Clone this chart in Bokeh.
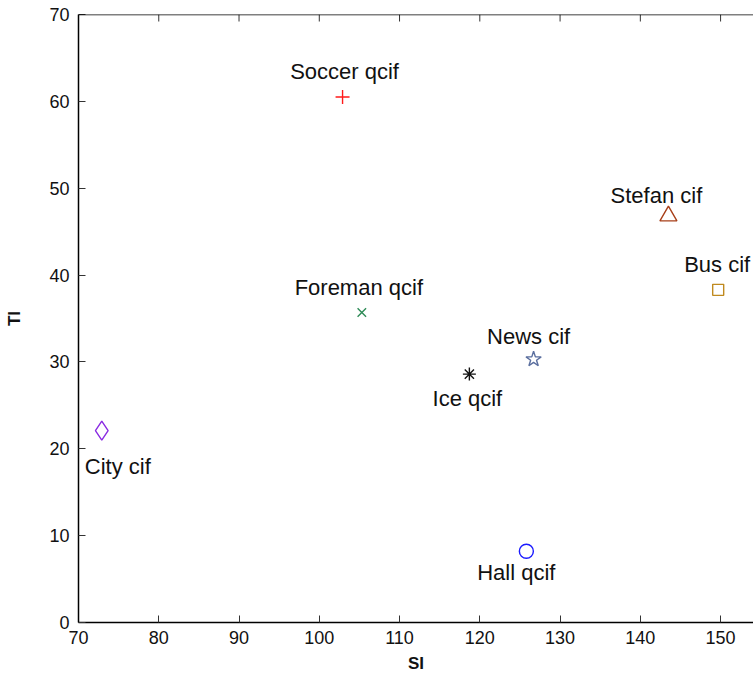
import math
from bokeh.plotting import figure
from bokeh.models import ColumnDataSource, FixedTicker, Range1d, Span
from bokeh.core.properties import value
from bokeh.embed import file_html
from bokeh.resources import INLINE

# Video sequences: spatial (SI) vs temporal (TI) information
names = ["Soccer qcif", "Stefan cif", "Bus cif", "Foreman qcif",
         "News cif", "Ice qcif", "City cif", "Hall qcif"]
si = [102.9, 143.5, 149.7, 105.3, 126.7, 118.7, 72.9, 125.8]
ti = [60.5, 46.8, 38.3, 35.7, 30.3, 28.6, 22.1, 8.2]

# Marker styling for each sequence
markers = ["cross", "triangle", "square", "x", "star", "asterisk", "diamond", "circle"]
colors = ["#ff1a1a", "#a8401a", "#c08a1f", "#2e8b57", "#5b6f9f", "#111111", "#8a2be2", "#1a1aff"]
sizes = [14, 17, 11, 12, 16, 13, 19, 14]

# Label placement relative to each marker (screen pixels)
label_dx = [2, -12, -1, -3, -5, -2, 16, -10]
label_dy = [-26, -21, -25, -25, -23, 24, 36, 21]

x_ticks = [70, 80, 90, 100, 110, 120, 130, 140, 150]
y_ticks = [0, 10, 20, 30, 40, 50, 60, 70]

FONT = "Liberation Sans"
Y_TOP = 70

src = ColumnDataSource(dict(si=si, ti=ti, name=names, marker=markers, color=colors,
                            size=sizes, dx=label_dx, dy=label_dy))

p = figure(width=753, height=678, output_backend="svg", toolbar_location=None,
           x_range=Range1d(70, 154.1), y_range=Range1d(0, Y_TOP),
           min_border_left=78, min_border_right=0, min_border_top=14, min_border_bottom=56,
           x_axis_label="SI", y_axis_label="TI")
p.outline_line_color = None
p.background_fill_color = "white"
p.border_fill_color = "white"
p.xgrid.visible = False
p.ygrid.visible = False

p.scatter("si", "ti", source=src, marker="marker", size="size",
          line_color="color", fill_color=None, line_width=1.4)
p.text("si", "ti", text="name", source=src, x_offset="dx", y_offset="dy",
       text_align="center", text_baseline="middle",
       text_font=value(FONT), text_font_size="22px", text_color="#111111")

for ax in (p.xaxis[0], p.yaxis[0]):
    ax.major_tick_in = 7
    ax.major_tick_out = 0
    ax.minor_tick_in = 0
    ax.minor_tick_out = 0
    ax.axis_line_color = "black"
    ax.axis_line_width = 1.5
    ax.major_tick_line_color = "#333333"
    ax.major_label_text_font = FONT
    ax.major_label_text_font_size = "18px"
    ax.major_label_text_color = "#111111"
    ax.axis_label_text_font = FONT
    ax.axis_label_text_font_size = "17px"
    ax.axis_label_text_font_style = "bold"
    ax.axis_label_text_color = "#111111"

p.xaxis[0].ticker = FixedTicker(ticks=x_ticks)
p.yaxis[0].ticker = FixedTicker(ticks=y_ticks)
p.xaxis[0].major_label_standoff = 8
p.xaxis[0].axis_label_standoff = 7
p.yaxis[0].major_label_standoff = 9
p.yaxis[0].axis_label_standoff = 22

# Top edge of the box with inward ticks
p.add_layout(Span(location=Y_TOP, dimension="width", line_color="black", line_width=1.5))
p.ray(x=x_ticks, y=[Y_TOP] * len(x_ticks), length=7, length_units="screen",
      angle=-math.pi / 2, line_color="#333333", line_width=1)

open("out.html", "w").write(file_html(p, INLINE))
